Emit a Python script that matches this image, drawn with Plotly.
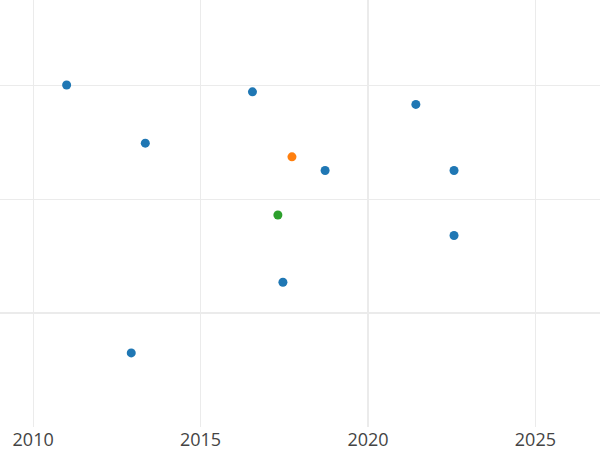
import plotly.graph_objects as go

# ----------------------------------
# Data
# ----------------------------------

blue_x = [2011.0, 2013.35, 2016.55, 2018.72, 2021.43, 2022.57, 2022.57, 2017.46, 2012.93]
blue_y = [2.0, 1.49, 1.94, 1.25, 1.83, 1.25, 0.68, 0.27, -0.35]

orange_x = [2017.73]
orange_y = [1.37]

green_x = [2017.31]
green_y = [0.86]

tick_years = [2010, 2015, 2020, 2025]

GRID = "#ebebeb"

fig = go.Figure()

for xs, ys, color in [
    (blue_x, blue_y, "#1f77b4"),
    (orange_x, orange_y, "#ff7f0e"),
    (green_x, green_y, "#2ca02c"),
]:
    fig.add_trace(go.Scatter(
        x=xs,
        y=ys,
        mode="markers",
        marker=dict(color=color, size=9),
        showlegend=False
    ))

# thicker reference line at 2020
fig.add_vline(x=2020, line_color=GRID, line_width=2, layer="below")

fig.update_layout(
    width=600,
    height=450,
    margin=dict(l=0, r=0, t=0, b=23),
    paper_bgcolor="white",
    plot_bgcolor="white",
    font=dict(family="Open Sans", size=18, color="#444444"),
    xaxis=dict(
        range=[2009.01, 2026.93],
        tickvals=tick_years,
        ticktext=[str(t) for t in tick_years],
        showgrid=True,
        gridcolor=GRID,
        gridwidth=1,
        zeroline=False,
        showline=False,
        ticks=""
    ),
    yaxis=dict(
        range=[-1.0, 2.746],
        dtick=1,
        showticklabels=False,
        showgrid=True,
        gridcolor=GRID,
        gridwidth=1,
        zeroline=True,
        zerolinecolor=GRID,
        zerolinewidth=2,
        showline=False,
        ticks=""
    )
)

# page is exactly the window size: drop the default body margin
page_js = (
    "document.body.style.margin='0';"
    "document.body.style.overflow='hidden';"
)

fig.write_html(
    "out.html",
    config={"displayModeBar": False},
    post_script=page_js
)
